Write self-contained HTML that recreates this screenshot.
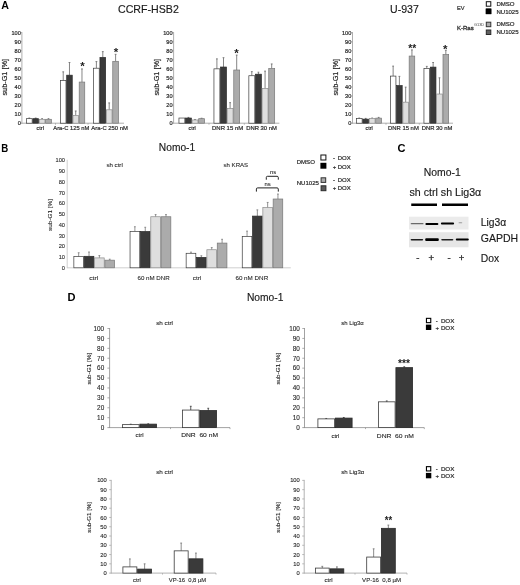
<!DOCTYPE html>
<html><head><meta charset="utf-8"><title>Figure</title>
<style>html,body{margin:0;padding:0;background:#fff}svg{display:block;will-change:transform;filter:blur(0.3px)}</style>
</head><body>
<svg width="520" height="585" viewBox="0 0 520 585" font-family='"Liberation Sans", Arial, sans-serif'>
<rect width="520" height="585" fill="#fff"/>
<text x="1.20" y="8.90" font-size="10.4" text-anchor="start" font-weight="bold" fill="#000" textLength="7.70" lengthAdjust="spacingAndGlyphs" >A</text>
<text x="148.40" y="13.00" font-size="10.6" text-anchor="middle" font-weight="normal" fill="#1a1a1a" stroke="#1a1a1a" stroke-width="0.15" textLength="60.80" lengthAdjust="spacingAndGlyphs" >CCRF-HSB2</text>
<text x="404.40" y="13.00" font-size="10.6" text-anchor="middle" font-weight="normal" fill="#1a1a1a" stroke="#1a1a1a" stroke-width="0.15" textLength="28.80" lengthAdjust="spacingAndGlyphs" >U-937</text>
<line x1="21.9" y1="32.1" x2="21.9" y2="123.60000000000001" stroke="#999" stroke-width="0.8"/>
<line x1="20.7" y1="123.2" x2="124" y2="123.2" stroke="#999" stroke-width="0.8"/>
<line x1="55.5" y1="123.2" x2="55.5" y2="124.7" stroke="#999" stroke-width="0.7"/>
<line x1="88" y1="123.2" x2="88" y2="124.7" stroke="#999" stroke-width="0.7"/>
<text x="20.80" y="125.20" font-size="5.6" text-anchor="end" font-weight="normal" fill="#2a2a2a" stroke="#2a2a2a" stroke-width="0.2" >0</text>
<line x1="20.7" y1="114.14" x2="21.9" y2="114.14" stroke="#999" stroke-width="0.7"/>
<text x="20.80" y="116.14" font-size="5.6" text-anchor="end" font-weight="normal" fill="#2a2a2a" stroke="#2a2a2a" stroke-width="0.2" >10</text>
<line x1="20.7" y1="105.08" x2="21.9" y2="105.08" stroke="#999" stroke-width="0.7"/>
<text x="20.80" y="107.08" font-size="5.6" text-anchor="end" font-weight="normal" fill="#2a2a2a" stroke="#2a2a2a" stroke-width="0.2" >20</text>
<line x1="20.7" y1="96.02" x2="21.9" y2="96.02" stroke="#999" stroke-width="0.7"/>
<text x="20.80" y="98.02" font-size="5.6" text-anchor="end" font-weight="normal" fill="#2a2a2a" stroke="#2a2a2a" stroke-width="0.2" >30</text>
<line x1="20.7" y1="86.96" x2="21.9" y2="86.96" stroke="#999" stroke-width="0.7"/>
<text x="20.80" y="88.96" font-size="5.6" text-anchor="end" font-weight="normal" fill="#2a2a2a" stroke="#2a2a2a" stroke-width="0.2" >40</text>
<line x1="20.7" y1="77.90" x2="21.9" y2="77.90" stroke="#999" stroke-width="0.7"/>
<text x="20.80" y="79.90" font-size="5.6" text-anchor="end" font-weight="normal" fill="#2a2a2a" stroke="#2a2a2a" stroke-width="0.2" >50</text>
<line x1="20.7" y1="68.84" x2="21.9" y2="68.84" stroke="#999" stroke-width="0.7"/>
<text x="20.80" y="70.84" font-size="5.6" text-anchor="end" font-weight="normal" fill="#2a2a2a" stroke="#2a2a2a" stroke-width="0.2" >60</text>
<line x1="20.7" y1="59.78" x2="21.9" y2="59.78" stroke="#999" stroke-width="0.7"/>
<text x="20.80" y="61.78" font-size="5.6" text-anchor="end" font-weight="normal" fill="#2a2a2a" stroke="#2a2a2a" stroke-width="0.2" >70</text>
<line x1="20.7" y1="50.72" x2="21.9" y2="50.72" stroke="#999" stroke-width="0.7"/>
<text x="20.80" y="52.72" font-size="5.6" text-anchor="end" font-weight="normal" fill="#2a2a2a" stroke="#2a2a2a" stroke-width="0.2" >80</text>
<line x1="20.7" y1="41.66" x2="21.9" y2="41.66" stroke="#999" stroke-width="0.7"/>
<text x="20.80" y="43.66" font-size="5.6" text-anchor="end" font-weight="normal" fill="#2a2a2a" stroke="#2a2a2a" stroke-width="0.2" >90</text>
<line x1="20.7" y1="32.60" x2="21.9" y2="32.60" stroke="#999" stroke-width="0.7"/>
<text x="20.80" y="34.60" font-size="5.6" text-anchor="end" font-weight="normal" fill="#2a2a2a" stroke="#2a2a2a" stroke-width="0.2" >100</text>
<text transform="translate(6.9,77.3) rotate(-90)" font-size="7" text-anchor="middle" fill="#2a2a2a" stroke="#2a2a2a" stroke-width="0.2" textLength="36.6" lengthAdjust="spacingAndGlyphs">sub-G1 [%]</text>
<line x1="29.30" y1="118.67" x2="29.30" y2="118.04" stroke="#666" stroke-width="0.8"/>
<line x1="28.40" y1="118.04" x2="30.20" y2="118.04" stroke="#666" stroke-width="0.8"/>
<rect x="26.45" y="118.67" width="5.70" height="4.53" fill="#ffffff" stroke="#3a3a3a" stroke-width="0.7"/>
<line x1="35.70" y1="118.67" x2="35.70" y2="118.04" stroke="#666" stroke-width="0.8"/>
<line x1="34.80" y1="118.04" x2="36.60" y2="118.04" stroke="#666" stroke-width="0.8"/>
<rect x="32.85" y="118.67" width="5.70" height="4.53" fill="#3a3a3a" stroke="#2a2a2a" stroke-width="0.7"/>
<line x1="42.10" y1="119.30" x2="42.10" y2="118.67" stroke="#666" stroke-width="0.8"/>
<line x1="41.20" y1="118.67" x2="43.00" y2="118.67" stroke="#666" stroke-width="0.8"/>
<rect x="39.25" y="119.30" width="5.70" height="3.90" fill="#dedede" stroke="#8a8a8a" stroke-width="0.7"/>
<line x1="48.50" y1="119.30" x2="48.50" y2="118.67" stroke="#666" stroke-width="0.8"/>
<line x1="47.60" y1="118.67" x2="49.40" y2="118.67" stroke="#666" stroke-width="0.8"/>
<rect x="45.65" y="119.30" width="5.70" height="3.90" fill="#ababab" stroke="#777" stroke-width="0.7"/>
<text x="40.20" y="129.70" font-size="5.8" text-anchor="middle" font-weight="normal" fill="#2a2a2a" stroke="#2a2a2a" stroke-width="0.2" textLength="7.40" lengthAdjust="spacingAndGlyphs" xml:space="preserve">ctrl</text>
<line x1="63.23" y1="80.62" x2="63.23" y2="71.83" stroke="#666" stroke-width="0.8"/>
<line x1="62.33" y1="71.83" x2="64.12" y2="71.83" stroke="#666" stroke-width="0.8"/>
<rect x="60.45" y="80.62" width="5.55" height="42.58" fill="#ffffff" stroke="#3a3a3a" stroke-width="0.7"/>
<line x1="69.47" y1="75.18" x2="69.47" y2="62.50" stroke="#666" stroke-width="0.8"/>
<line x1="68.57" y1="62.50" x2="70.38" y2="62.50" stroke="#666" stroke-width="0.8"/>
<rect x="66.70" y="75.18" width="5.55" height="48.02" fill="#3a3a3a" stroke="#2a2a2a" stroke-width="0.7"/>
<line x1="75.72" y1="115.50" x2="75.72" y2="110.97" stroke="#666" stroke-width="0.8"/>
<line x1="74.82" y1="110.97" x2="76.62" y2="110.97" stroke="#666" stroke-width="0.8"/>
<rect x="72.95" y="115.50" width="5.55" height="7.70" fill="#dedede" stroke="#8a8a8a" stroke-width="0.7"/>
<line x1="81.97" y1="82.07" x2="81.97" y2="68.93" stroke="#666" stroke-width="0.8"/>
<line x1="81.07" y1="68.93" x2="82.88" y2="68.93" stroke="#666" stroke-width="0.8"/>
<rect x="79.20" y="82.07" width="5.55" height="41.13" fill="#ababab" stroke="#777" stroke-width="0.7"/>
<text x="71.30" y="129.70" font-size="5.8" text-anchor="middle" font-weight="normal" fill="#2a2a2a" stroke="#2a2a2a" stroke-width="0.2" textLength="36.00" lengthAdjust="spacingAndGlyphs" xml:space="preserve">Ara-C 125 nM</text>
<line x1="96.40" y1="68.21" x2="96.40" y2="61.59" stroke="#666" stroke-width="0.8"/>
<line x1="95.50" y1="61.59" x2="97.30" y2="61.59" stroke="#666" stroke-width="0.8"/>
<rect x="93.55" y="68.21" width="5.70" height="54.99" fill="#ffffff" stroke="#3a3a3a" stroke-width="0.7"/>
<line x1="102.80" y1="57.42" x2="102.80" y2="51.63" stroke="#666" stroke-width="0.8"/>
<line x1="101.90" y1="51.63" x2="103.70" y2="51.63" stroke="#666" stroke-width="0.8"/>
<rect x="99.95" y="57.42" width="5.70" height="65.78" fill="#3a3a3a" stroke="#2a2a2a" stroke-width="0.7"/>
<line x1="109.20" y1="109.79" x2="109.20" y2="102.91" stroke="#666" stroke-width="0.8"/>
<line x1="108.30" y1="102.91" x2="110.10" y2="102.91" stroke="#666" stroke-width="0.8"/>
<rect x="106.35" y="109.79" width="5.70" height="13.41" fill="#dedede" stroke="#8a8a8a" stroke-width="0.7"/>
<line x1="115.60" y1="61.32" x2="115.60" y2="54.34" stroke="#666" stroke-width="0.8"/>
<line x1="114.70" y1="54.34" x2="116.50" y2="54.34" stroke="#666" stroke-width="0.8"/>
<rect x="112.75" y="61.32" width="5.70" height="61.88" fill="#ababab" stroke="#777" stroke-width="0.7"/>
<text x="109.60" y="129.70" font-size="5.8" text-anchor="middle" font-weight="normal" fill="#2a2a2a" stroke="#2a2a2a" stroke-width="0.2" textLength="36.60" lengthAdjust="spacingAndGlyphs" xml:space="preserve">Ara-C 250 nM</text>
<text x="82.40" y="69.93" font-size="11.5" text-anchor="middle" font-weight="bold" fill="#222" >*</text>
<text x="115.90" y="56.33" font-size="11.5" text-anchor="middle" font-weight="bold" fill="#222" >*</text>
<line x1="173.6" y1="32.1" x2="173.6" y2="123.60000000000001" stroke="#999" stroke-width="0.8"/>
<line x1="172.4" y1="123.2" x2="279.4" y2="123.2" stroke="#999" stroke-width="0.8"/>
<line x1="209" y1="123.2" x2="209" y2="124.7" stroke="#999" stroke-width="0.7"/>
<line x1="244.3" y1="123.2" x2="244.3" y2="124.7" stroke="#999" stroke-width="0.7"/>
<text x="172.50" y="125.20" font-size="5.6" text-anchor="end" font-weight="normal" fill="#2a2a2a" stroke="#2a2a2a" stroke-width="0.2" >0</text>
<line x1="172.4" y1="114.14" x2="173.6" y2="114.14" stroke="#999" stroke-width="0.7"/>
<text x="172.50" y="116.14" font-size="5.6" text-anchor="end" font-weight="normal" fill="#2a2a2a" stroke="#2a2a2a" stroke-width="0.2" >10</text>
<line x1="172.4" y1="105.08" x2="173.6" y2="105.08" stroke="#999" stroke-width="0.7"/>
<text x="172.50" y="107.08" font-size="5.6" text-anchor="end" font-weight="normal" fill="#2a2a2a" stroke="#2a2a2a" stroke-width="0.2" >20</text>
<line x1="172.4" y1="96.02" x2="173.6" y2="96.02" stroke="#999" stroke-width="0.7"/>
<text x="172.50" y="98.02" font-size="5.6" text-anchor="end" font-weight="normal" fill="#2a2a2a" stroke="#2a2a2a" stroke-width="0.2" >30</text>
<line x1="172.4" y1="86.96" x2="173.6" y2="86.96" stroke="#999" stroke-width="0.7"/>
<text x="172.50" y="88.96" font-size="5.6" text-anchor="end" font-weight="normal" fill="#2a2a2a" stroke="#2a2a2a" stroke-width="0.2" >40</text>
<line x1="172.4" y1="77.90" x2="173.6" y2="77.90" stroke="#999" stroke-width="0.7"/>
<text x="172.50" y="79.90" font-size="5.6" text-anchor="end" font-weight="normal" fill="#2a2a2a" stroke="#2a2a2a" stroke-width="0.2" >50</text>
<line x1="172.4" y1="68.84" x2="173.6" y2="68.84" stroke="#999" stroke-width="0.7"/>
<text x="172.50" y="70.84" font-size="5.6" text-anchor="end" font-weight="normal" fill="#2a2a2a" stroke="#2a2a2a" stroke-width="0.2" >60</text>
<line x1="172.4" y1="59.78" x2="173.6" y2="59.78" stroke="#999" stroke-width="0.7"/>
<text x="172.50" y="61.78" font-size="5.6" text-anchor="end" font-weight="normal" fill="#2a2a2a" stroke="#2a2a2a" stroke-width="0.2" >70</text>
<line x1="172.4" y1="50.72" x2="173.6" y2="50.72" stroke="#999" stroke-width="0.7"/>
<text x="172.50" y="52.72" font-size="5.6" text-anchor="end" font-weight="normal" fill="#2a2a2a" stroke="#2a2a2a" stroke-width="0.2" >80</text>
<line x1="172.4" y1="41.66" x2="173.6" y2="41.66" stroke="#999" stroke-width="0.7"/>
<text x="172.50" y="43.66" font-size="5.6" text-anchor="end" font-weight="normal" fill="#2a2a2a" stroke="#2a2a2a" stroke-width="0.2" >90</text>
<line x1="172.4" y1="32.60" x2="173.6" y2="32.60" stroke="#999" stroke-width="0.7"/>
<text x="172.50" y="34.60" font-size="5.6" text-anchor="end" font-weight="normal" fill="#2a2a2a" stroke="#2a2a2a" stroke-width="0.2" >100</text>
<text transform="translate(158.5,77.3) rotate(-90)" font-size="7" text-anchor="middle" fill="#2a2a2a" stroke="#2a2a2a" stroke-width="0.2" textLength="36.6" lengthAdjust="spacingAndGlyphs">sub-G1 [%]</text>
<rect x="178.95" y="118.04" width="5.87" height="5.16" fill="#ffffff" stroke="#3a3a3a" stroke-width="0.7"/>
<line x1="188.45" y1="118.04" x2="188.45" y2="117.40" stroke="#666" stroke-width="0.8"/>
<line x1="187.55" y1="117.40" x2="189.35" y2="117.40" stroke="#666" stroke-width="0.8"/>
<rect x="185.52" y="118.04" width="5.87" height="5.16" fill="#3a3a3a" stroke="#2a2a2a" stroke-width="0.7"/>
<line x1="195.03" y1="119.94" x2="195.03" y2="119.49" stroke="#666" stroke-width="0.8"/>
<line x1="194.12" y1="119.49" x2="195.93" y2="119.49" stroke="#666" stroke-width="0.8"/>
<rect x="192.09" y="119.94" width="5.87" height="3.26" fill="#dedede" stroke="#8a8a8a" stroke-width="0.7"/>
<line x1="201.59" y1="118.67" x2="201.59" y2="118.22" stroke="#666" stroke-width="0.8"/>
<line x1="200.69" y1="118.22" x2="202.50" y2="118.22" stroke="#666" stroke-width="0.8"/>
<rect x="198.66" y="118.67" width="5.87" height="4.53" fill="#ababab" stroke="#777" stroke-width="0.7"/>
<text x="192.20" y="129.70" font-size="5.8" text-anchor="middle" font-weight="normal" fill="#2a2a2a" stroke="#2a2a2a" stroke-width="0.2" textLength="7.30" lengthAdjust="spacingAndGlyphs" xml:space="preserve">ctrl</text>
<line x1="216.90" y1="68.84" x2="216.90" y2="58.87" stroke="#666" stroke-width="0.8"/>
<line x1="216.00" y1="58.87" x2="217.80" y2="58.87" stroke="#666" stroke-width="0.8"/>
<rect x="213.95" y="68.84" width="5.90" height="54.36" fill="#ffffff" stroke="#3a3a3a" stroke-width="0.7"/>
<line x1="223.50" y1="67.03" x2="223.50" y2="57.70" stroke="#666" stroke-width="0.8"/>
<line x1="222.60" y1="57.70" x2="224.40" y2="57.70" stroke="#666" stroke-width="0.8"/>
<rect x="220.55" y="67.03" width="5.90" height="56.17" fill="#3a3a3a" stroke="#2a2a2a" stroke-width="0.7"/>
<line x1="230.10" y1="108.52" x2="230.10" y2="102.63" stroke="#666" stroke-width="0.8"/>
<line x1="229.20" y1="102.63" x2="231.00" y2="102.63" stroke="#666" stroke-width="0.8"/>
<rect x="227.15" y="108.52" width="5.90" height="14.68" fill="#dedede" stroke="#8a8a8a" stroke-width="0.7"/>
<line x1="236.70" y1="70.02" x2="236.70" y2="55.07" stroke="#666" stroke-width="0.8"/>
<line x1="235.80" y1="55.07" x2="237.60" y2="55.07" stroke="#666" stroke-width="0.8"/>
<rect x="233.75" y="70.02" width="5.90" height="53.18" fill="#ababab" stroke="#777" stroke-width="0.7"/>
<text x="227.60" y="129.70" font-size="5.8" text-anchor="middle" font-weight="normal" fill="#2a2a2a" stroke="#2a2a2a" stroke-width="0.2" textLength="31.10" lengthAdjust="spacingAndGlyphs" xml:space="preserve">DNR 15 nM</text>
<line x1="251.81" y1="75.73" x2="251.81" y2="71.65" stroke="#666" stroke-width="0.8"/>
<line x1="250.91" y1="71.65" x2="252.72" y2="71.65" stroke="#666" stroke-width="0.8"/>
<rect x="248.85" y="75.73" width="5.93" height="47.47" fill="#ffffff" stroke="#3a3a3a" stroke-width="0.7"/>
<line x1="258.44" y1="74.19" x2="258.44" y2="72.19" stroke="#666" stroke-width="0.8"/>
<line x1="257.55" y1="72.19" x2="259.34" y2="72.19" stroke="#666" stroke-width="0.8"/>
<rect x="255.48" y="74.19" width="5.93" height="49.01" fill="#3a3a3a" stroke="#2a2a2a" stroke-width="0.7"/>
<line x1="265.07" y1="88.50" x2="265.07" y2="71.11" stroke="#666" stroke-width="0.8"/>
<line x1="264.18" y1="71.11" x2="265.97" y2="71.11" stroke="#666" stroke-width="0.8"/>
<rect x="262.11" y="88.50" width="5.93" height="34.70" fill="#dedede" stroke="#8a8a8a" stroke-width="0.7"/>
<line x1="271.70" y1="68.48" x2="271.70" y2="63.95" stroke="#666" stroke-width="0.8"/>
<line x1="270.81" y1="63.95" x2="272.60" y2="63.95" stroke="#666" stroke-width="0.8"/>
<rect x="268.74" y="68.48" width="5.93" height="54.72" fill="#ababab" stroke="#777" stroke-width="0.7"/>
<text x="261.60" y="129.70" font-size="5.8" text-anchor="middle" font-weight="normal" fill="#2a2a2a" stroke="#2a2a2a" stroke-width="0.2" textLength="30.60" lengthAdjust="spacingAndGlyphs" xml:space="preserve">DNR 30 nM</text>
<text x="236.40" y="56.83" font-size="11.5" text-anchor="middle" font-weight="bold" fill="#222" >*</text>
<line x1="352.5" y1="32.1" x2="352.5" y2="123.60000000000001" stroke="#999" stroke-width="0.8"/>
<line x1="351.3" y1="123.2" x2="453" y2="123.2" stroke="#999" stroke-width="0.8"/>
<line x1="386" y1="123.2" x2="386" y2="124.7" stroke="#999" stroke-width="0.7"/>
<line x1="419.3" y1="123.2" x2="419.3" y2="124.7" stroke="#999" stroke-width="0.7"/>
<text x="351.30" y="125.20" font-size="5.6" text-anchor="end" font-weight="normal" fill="#2a2a2a" stroke="#2a2a2a" stroke-width="0.2" >0</text>
<line x1="351.3" y1="114.14" x2="352.5" y2="114.14" stroke="#999" stroke-width="0.7"/>
<text x="351.30" y="116.14" font-size="5.6" text-anchor="end" font-weight="normal" fill="#2a2a2a" stroke="#2a2a2a" stroke-width="0.2" >10</text>
<line x1="351.3" y1="105.08" x2="352.5" y2="105.08" stroke="#999" stroke-width="0.7"/>
<text x="351.30" y="107.08" font-size="5.6" text-anchor="end" font-weight="normal" fill="#2a2a2a" stroke="#2a2a2a" stroke-width="0.2" >20</text>
<line x1="351.3" y1="96.02" x2="352.5" y2="96.02" stroke="#999" stroke-width="0.7"/>
<text x="351.30" y="98.02" font-size="5.6" text-anchor="end" font-weight="normal" fill="#2a2a2a" stroke="#2a2a2a" stroke-width="0.2" >30</text>
<line x1="351.3" y1="86.96" x2="352.5" y2="86.96" stroke="#999" stroke-width="0.7"/>
<text x="351.30" y="88.96" font-size="5.6" text-anchor="end" font-weight="normal" fill="#2a2a2a" stroke="#2a2a2a" stroke-width="0.2" >40</text>
<line x1="351.3" y1="77.90" x2="352.5" y2="77.90" stroke="#999" stroke-width="0.7"/>
<text x="351.30" y="79.90" font-size="5.6" text-anchor="end" font-weight="normal" fill="#2a2a2a" stroke="#2a2a2a" stroke-width="0.2" >50</text>
<line x1="351.3" y1="68.84" x2="352.5" y2="68.84" stroke="#999" stroke-width="0.7"/>
<text x="351.30" y="70.84" font-size="5.6" text-anchor="end" font-weight="normal" fill="#2a2a2a" stroke="#2a2a2a" stroke-width="0.2" >60</text>
<line x1="351.3" y1="59.78" x2="352.5" y2="59.78" stroke="#999" stroke-width="0.7"/>
<text x="351.30" y="61.78" font-size="5.6" text-anchor="end" font-weight="normal" fill="#2a2a2a" stroke="#2a2a2a" stroke-width="0.2" >70</text>
<line x1="351.3" y1="50.72" x2="352.5" y2="50.72" stroke="#999" stroke-width="0.7"/>
<text x="351.30" y="52.72" font-size="5.6" text-anchor="end" font-weight="normal" fill="#2a2a2a" stroke="#2a2a2a" stroke-width="0.2" >80</text>
<line x1="351.3" y1="41.66" x2="352.5" y2="41.66" stroke="#999" stroke-width="0.7"/>
<text x="351.30" y="43.66" font-size="5.6" text-anchor="end" font-weight="normal" fill="#2a2a2a" stroke="#2a2a2a" stroke-width="0.2" >90</text>
<line x1="351.3" y1="32.60" x2="352.5" y2="32.60" stroke="#999" stroke-width="0.7"/>
<text x="351.30" y="34.60" font-size="5.6" text-anchor="end" font-weight="normal" fill="#2a2a2a" stroke="#2a2a2a" stroke-width="0.2" >100</text>
<text transform="translate(337.5,77.3) rotate(-90)" font-size="7" text-anchor="middle" fill="#2a2a2a" stroke="#2a2a2a" stroke-width="0.2" textLength="36.6" lengthAdjust="spacingAndGlyphs">sub-G1 [%]</text>
<line x1="359.24" y1="118.49" x2="359.24" y2="118.04" stroke="#666" stroke-width="0.8"/>
<line x1="358.34" y1="118.04" x2="360.13" y2="118.04" stroke="#666" stroke-width="0.8"/>
<rect x="356.35" y="118.49" width="5.77" height="4.71" fill="#ffffff" stroke="#3a3a3a" stroke-width="0.7"/>
<line x1="365.71" y1="119.12" x2="365.71" y2="118.40" stroke="#666" stroke-width="0.8"/>
<line x1="364.81" y1="118.40" x2="366.61" y2="118.40" stroke="#666" stroke-width="0.8"/>
<rect x="362.82" y="119.12" width="5.77" height="4.08" fill="#3a3a3a" stroke="#2a2a2a" stroke-width="0.7"/>
<line x1="372.18" y1="118.49" x2="372.18" y2="118.04" stroke="#666" stroke-width="0.8"/>
<line x1="371.28" y1="118.04" x2="373.07" y2="118.04" stroke="#666" stroke-width="0.8"/>
<rect x="369.29" y="118.49" width="5.77" height="4.71" fill="#dedede" stroke="#8a8a8a" stroke-width="0.7"/>
<line x1="378.65" y1="118.13" x2="378.65" y2="117.40" stroke="#666" stroke-width="0.8"/>
<line x1="377.75" y1="117.40" x2="379.55" y2="117.40" stroke="#666" stroke-width="0.8"/>
<rect x="375.76" y="118.13" width="5.77" height="5.07" fill="#ababab" stroke="#777" stroke-width="0.7"/>
<text x="369.20" y="129.70" font-size="5.8" text-anchor="middle" font-weight="normal" fill="#2a2a2a" stroke="#2a2a2a" stroke-width="0.2" textLength="7.30" lengthAdjust="spacingAndGlyphs" xml:space="preserve">ctrl</text>
<line x1="393.13" y1="76.09" x2="393.13" y2="66.12" stroke="#666" stroke-width="0.8"/>
<line x1="392.24" y1="66.12" x2="394.03" y2="66.12" stroke="#666" stroke-width="0.8"/>
<rect x="390.35" y="76.09" width="5.57" height="47.11" fill="#ffffff" stroke="#3a3a3a" stroke-width="0.7"/>
<line x1="399.40" y1="85.60" x2="399.40" y2="76.36" stroke="#666" stroke-width="0.8"/>
<line x1="398.50" y1="76.36" x2="400.30" y2="76.36" stroke="#666" stroke-width="0.8"/>
<rect x="396.62" y="85.60" width="5.57" height="37.60" fill="#3a3a3a" stroke="#2a2a2a" stroke-width="0.7"/>
<line x1="405.68" y1="102.18" x2="405.68" y2="87.14" stroke="#666" stroke-width="0.8"/>
<line x1="404.78" y1="87.14" x2="406.57" y2="87.14" stroke="#666" stroke-width="0.8"/>
<rect x="402.89" y="102.18" width="5.57" height="21.02" fill="#dedede" stroke="#8a8a8a" stroke-width="0.7"/>
<line x1="411.94" y1="56.07" x2="411.94" y2="49.90" stroke="#666" stroke-width="0.8"/>
<line x1="411.05" y1="49.90" x2="412.84" y2="49.90" stroke="#666" stroke-width="0.8"/>
<rect x="409.16" y="56.07" width="5.57" height="67.13" fill="#ababab" stroke="#777" stroke-width="0.7"/>
<text x="403.40" y="129.70" font-size="5.8" text-anchor="middle" font-weight="normal" fill="#2a2a2a" stroke="#2a2a2a" stroke-width="0.2" textLength="30.80" lengthAdjust="spacingAndGlyphs" xml:space="preserve">DNR 15 nM</text>
<line x1="426.78" y1="68.39" x2="426.78" y2="66.39" stroke="#666" stroke-width="0.8"/>
<line x1="425.88" y1="66.39" x2="427.68" y2="66.39" stroke="#666" stroke-width="0.8"/>
<rect x="423.95" y="68.39" width="5.65" height="54.81" fill="#ffffff" stroke="#3a3a3a" stroke-width="0.7"/>
<line x1="433.13" y1="67.12" x2="433.13" y2="62.50" stroke="#666" stroke-width="0.8"/>
<line x1="432.23" y1="62.50" x2="434.03" y2="62.50" stroke="#666" stroke-width="0.8"/>
<rect x="430.30" y="67.12" width="5.65" height="56.08" fill="#3a3a3a" stroke="#2a2a2a" stroke-width="0.7"/>
<line x1="439.48" y1="94.03" x2="439.48" y2="77.81" stroke="#666" stroke-width="0.8"/>
<line x1="438.58" y1="77.81" x2="440.38" y2="77.81" stroke="#666" stroke-width="0.8"/>
<rect x="436.65" y="94.03" width="5.65" height="29.17" fill="#dedede" stroke="#8a8a8a" stroke-width="0.7"/>
<line x1="445.83" y1="54.53" x2="445.83" y2="50.27" stroke="#666" stroke-width="0.8"/>
<line x1="444.93" y1="50.27" x2="446.73" y2="50.27" stroke="#666" stroke-width="0.8"/>
<rect x="443.00" y="54.53" width="5.65" height="68.67" fill="#ababab" stroke="#777" stroke-width="0.7"/>
<text x="437.00" y="129.70" font-size="5.8" text-anchor="middle" font-weight="normal" fill="#2a2a2a" stroke="#2a2a2a" stroke-width="0.2" textLength="30.70" lengthAdjust="spacingAndGlyphs" xml:space="preserve">DNR 30 nM</text>
<text x="412.20" y="51.53" font-size="11.5" text-anchor="middle" font-weight="bold" fill="#222" textLength="8.00" lengthAdjust="spacingAndGlyphs" >**</text>
<text x="445.20" y="53.03" font-size="11.5" text-anchor="middle" font-weight="bold" fill="#222" >*</text>
<text x="457.00" y="10.10" font-size="6.1" text-anchor="start" font-weight="normal" fill="#2a2a2a" stroke="#2a2a2a" stroke-width="0.2" textLength="7.60" lengthAdjust="spacingAndGlyphs" >EV</text>
<rect x="486.30" y="1.70" width="4.50" height="4.50" fill="#ffffff" stroke="#111" stroke-width="1.0"/>
<text x="496.40" y="5.80" font-size="6.1" text-anchor="start" font-weight="normal" fill="#2a2a2a" stroke="#2a2a2a" stroke-width="0.2" textLength="18.20" lengthAdjust="spacingAndGlyphs" >DMSO</text>
<rect x="486.30" y="9.10" width="4.50" height="4.50" fill="#3a3a3a" stroke="#000" stroke-width="1.0"/>
<rect x="485.8" y="8.6" width="5.5" height="5.5" fill="#000"/>
<text x="496.40" y="13.70" font-size="6.1" text-anchor="start" font-weight="normal" fill="#2a2a2a" stroke="#2a2a2a" stroke-width="0.2" textLength="22.20" lengthAdjust="spacingAndGlyphs" >NU1025</text>
<text x="457" y="29.9" font-size="6" fill="#2a2a2a" stroke="#2a2a2a" stroke-width="0.28">K-Ras<tspan font-size="3.9" dy="-4.1" dx="0.3" stroke="none" fill="#444">G13D</tspan></text>
<rect x="486.30" y="22.20" width="4.50" height="4.50" fill="#ababab" stroke="#333" stroke-width="1.0"/>
<text x="496.40" y="26.30" font-size="6.1" text-anchor="start" font-weight="normal" fill="#2a2a2a" stroke="#2a2a2a" stroke-width="0.2" textLength="18.20" lengthAdjust="spacingAndGlyphs" >DMSO</text>
<rect x="486.3" y="30.0" width="4.5" height="4.5" fill="#606060" stroke="#2a2a2a" stroke-width="1" />
<text x="496.40" y="34.30" font-size="6.1" text-anchor="start" font-weight="normal" fill="#2a2a2a" stroke="#2a2a2a" stroke-width="0.2" textLength="22.20" lengthAdjust="spacingAndGlyphs" >NU1025</text>
<text x="1.20" y="151.50" font-size="10.4" text-anchor="start" font-weight="bold" fill="#000" textLength="7.00" lengthAdjust="spacingAndGlyphs" >B</text>
<text x="177.00" y="151.10" font-size="10.2" text-anchor="middle" font-weight="normal" fill="#1a1a1a" stroke="#1a1a1a" stroke-width="0.15" textLength="36.30" lengthAdjust="spacingAndGlyphs" >Nomo-1</text>
<line x1="67.2" y1="159.8" x2="67.2" y2="268.2" stroke="#c4c4c4" stroke-width="0.8"/>
<line x1="67.2" y1="267.8" x2="290.8" y2="267.8" stroke="#c4c4c4" stroke-width="0.8"/>
<text x="65.00" y="269.84" font-size="5.7" text-anchor="end" font-weight="normal" fill="#2a2a2a" stroke="#2a2a2a" stroke-width="0.1" >0</text>
<text x="65.00" y="259.09" font-size="5.7" text-anchor="end" font-weight="normal" fill="#2a2a2a" stroke="#2a2a2a" stroke-width="0.1" >10</text>
<text x="65.00" y="248.34" font-size="5.7" text-anchor="end" font-weight="normal" fill="#2a2a2a" stroke="#2a2a2a" stroke-width="0.1" >20</text>
<text x="65.00" y="237.59" font-size="5.7" text-anchor="end" font-weight="normal" fill="#2a2a2a" stroke="#2a2a2a" stroke-width="0.1" >30</text>
<text x="65.00" y="226.84" font-size="5.7" text-anchor="end" font-weight="normal" fill="#2a2a2a" stroke="#2a2a2a" stroke-width="0.1" >40</text>
<text x="65.00" y="216.09" font-size="5.7" text-anchor="end" font-weight="normal" fill="#2a2a2a" stroke="#2a2a2a" stroke-width="0.1" >50</text>
<text x="65.00" y="205.34" font-size="5.7" text-anchor="end" font-weight="normal" fill="#2a2a2a" stroke="#2a2a2a" stroke-width="0.1" >60</text>
<text x="65.00" y="194.59" font-size="5.7" text-anchor="end" font-weight="normal" fill="#2a2a2a" stroke="#2a2a2a" stroke-width="0.1" >70</text>
<text x="65.00" y="183.84" font-size="5.7" text-anchor="end" font-weight="normal" fill="#2a2a2a" stroke="#2a2a2a" stroke-width="0.1" >80</text>
<text x="65.00" y="173.09" font-size="5.7" text-anchor="end" font-weight="normal" fill="#2a2a2a" stroke="#2a2a2a" stroke-width="0.1" >90</text>
<text x="65.00" y="162.34" font-size="5.7" text-anchor="end" font-weight="normal" fill="#2a2a2a" stroke="#2a2a2a" stroke-width="0.1" >100</text>
<text transform="translate(51.8,215) rotate(-90)" font-size="5.6" text-anchor="middle" fill="#2a2a2a" stroke="#2a2a2a" stroke-width="0.1" textLength="32" lengthAdjust="spacingAndGlyphs">sub-G1 [%]</text>
<line x1="78.67" y1="256.62" x2="78.67" y2="252.75" stroke="#777" stroke-width="0.8"/>
<line x1="77.77" y1="252.75" x2="79.58" y2="252.75" stroke="#777" stroke-width="0.8"/>
<rect x="73.85" y="256.62" width="9.65" height="11.18" fill="#ffffff" stroke="#3a3a3a" stroke-width="0.7"/>
<line x1="89.02" y1="256.30" x2="89.02" y2="252.00" stroke="#777" stroke-width="0.8"/>
<line x1="88.12" y1="252.00" x2="89.92" y2="252.00" stroke="#777" stroke-width="0.8"/>
<rect x="84.20" y="256.30" width="9.65" height="11.50" fill="#3a3a3a" stroke="#2a2a2a" stroke-width="0.7"/>
<line x1="99.38" y1="257.91" x2="99.38" y2="255.55" stroke="#777" stroke-width="0.8"/>
<line x1="98.47" y1="255.55" x2="100.28" y2="255.55" stroke="#777" stroke-width="0.8"/>
<rect x="94.55" y="257.91" width="9.65" height="9.89" fill="#dedede" stroke="#8a8a8a" stroke-width="0.7"/>
<line x1="109.72" y1="260.17" x2="109.72" y2="259.20" stroke="#777" stroke-width="0.8"/>
<line x1="108.82" y1="259.20" x2="110.62" y2="259.20" stroke="#777" stroke-width="0.8"/>
<rect x="104.90" y="260.17" width="9.65" height="7.63" fill="#ababab" stroke="#777" stroke-width="0.7"/>
<text x="93.70" y="280.20" font-size="6.2" text-anchor="middle" font-weight="normal" fill="#2a2a2a" stroke="#2a2a2a" stroke-width="0.1" textLength="8.90" lengthAdjust="spacingAndGlyphs" xml:space="preserve">ctrl</text>
<line x1="134.88" y1="231.47" x2="134.88" y2="226.74" stroke="#777" stroke-width="0.8"/>
<line x1="133.98" y1="226.74" x2="135.78" y2="226.74" stroke="#777" stroke-width="0.8"/>
<rect x="130.05" y="231.47" width="9.67" height="36.33" fill="#ffffff" stroke="#3a3a3a" stroke-width="0.7"/>
<line x1="145.25" y1="231.47" x2="145.25" y2="227.27" stroke="#777" stroke-width="0.8"/>
<line x1="144.35" y1="227.27" x2="146.16" y2="227.27" stroke="#777" stroke-width="0.8"/>
<rect x="140.42" y="231.47" width="9.67" height="36.33" fill="#3a3a3a" stroke="#2a2a2a" stroke-width="0.7"/>
<line x1="155.62" y1="216.74" x2="155.62" y2="214.59" stroke="#777" stroke-width="0.8"/>
<line x1="154.72" y1="214.59" x2="156.53" y2="214.59" stroke="#777" stroke-width="0.8"/>
<rect x="150.79" y="216.74" width="9.67" height="51.06" fill="#dedede" stroke="#8a8a8a" stroke-width="0.7"/>
<line x1="166.00" y1="216.74" x2="166.00" y2="214.59" stroke="#777" stroke-width="0.8"/>
<line x1="165.09" y1="214.59" x2="166.90" y2="214.59" stroke="#777" stroke-width="0.8"/>
<rect x="161.16" y="216.74" width="9.67" height="51.06" fill="#ababab" stroke="#777" stroke-width="0.7"/>
<text x="153.60" y="280.20" font-size="6.2" text-anchor="middle" font-weight="normal" fill="#2a2a2a" stroke="#2a2a2a" stroke-width="0.1" textLength="32.30" lengthAdjust="spacingAndGlyphs" xml:space="preserve">60 nM DNR</text>
<line x1="190.99" y1="253.29" x2="190.99" y2="252.11" stroke="#777" stroke-width="0.8"/>
<line x1="190.09" y1="252.11" x2="191.89" y2="252.11" stroke="#777" stroke-width="0.8"/>
<rect x="186.15" y="253.29" width="9.67" height="14.51" fill="#ffffff" stroke="#3a3a3a" stroke-width="0.7"/>
<line x1="201.36" y1="257.37" x2="201.36" y2="255.76" stroke="#777" stroke-width="0.8"/>
<line x1="200.46" y1="255.76" x2="202.26" y2="255.76" stroke="#777" stroke-width="0.8"/>
<rect x="196.52" y="257.37" width="9.67" height="10.43" fill="#3a3a3a" stroke="#2a2a2a" stroke-width="0.7"/>
<line x1="211.73" y1="249.74" x2="211.73" y2="247.59" stroke="#777" stroke-width="0.8"/>
<line x1="210.83" y1="247.59" x2="212.63" y2="247.59" stroke="#777" stroke-width="0.8"/>
<rect x="206.89" y="249.74" width="9.67" height="18.06" fill="#dedede" stroke="#8a8a8a" stroke-width="0.7"/>
<line x1="222.10" y1="243.08" x2="222.10" y2="239.31" stroke="#777" stroke-width="0.8"/>
<line x1="221.20" y1="239.31" x2="223.00" y2="239.31" stroke="#777" stroke-width="0.8"/>
<rect x="217.26" y="243.08" width="9.67" height="24.72" fill="#ababab" stroke="#777" stroke-width="0.7"/>
<text x="197.00" y="280.20" font-size="6.2" text-anchor="middle" font-weight="normal" fill="#2a2a2a" stroke="#2a2a2a" stroke-width="0.1" textLength="8.30" lengthAdjust="spacingAndGlyphs" xml:space="preserve">ctrl</text>
<line x1="247.05" y1="236.52" x2="247.05" y2="231.14" stroke="#777" stroke-width="0.8"/>
<line x1="246.15" y1="231.14" x2="247.95" y2="231.14" stroke="#777" stroke-width="0.8"/>
<rect x="242.25" y="236.52" width="9.60" height="31.28" fill="#ffffff" stroke="#3a3a3a" stroke-width="0.7"/>
<line x1="257.35" y1="216.09" x2="257.35" y2="209.86" stroke="#777" stroke-width="0.8"/>
<line x1="256.45" y1="209.86" x2="258.25" y2="209.86" stroke="#777" stroke-width="0.8"/>
<rect x="252.55" y="216.09" width="9.60" height="51.71" fill="#3a3a3a" stroke="#2a2a2a" stroke-width="0.7"/>
<line x1="267.65" y1="207.60" x2="267.65" y2="202.44" stroke="#777" stroke-width="0.8"/>
<line x1="266.75" y1="202.44" x2="268.55" y2="202.44" stroke="#777" stroke-width="0.8"/>
<rect x="262.85" y="207.60" width="9.60" height="60.20" fill="#dedede" stroke="#8a8a8a" stroke-width="0.7"/>
<line x1="277.95" y1="199.00" x2="277.95" y2="194.06" stroke="#777" stroke-width="0.8"/>
<line x1="277.05" y1="194.06" x2="278.85" y2="194.06" stroke="#777" stroke-width="0.8"/>
<rect x="273.15" y="199.00" width="9.60" height="68.80" fill="#ababab" stroke="#777" stroke-width="0.7"/>
<text x="251.80" y="280.20" font-size="6.2" text-anchor="middle" font-weight="normal" fill="#2a2a2a" stroke="#2a2a2a" stroke-width="0.1" textLength="32.80" lengthAdjust="spacingAndGlyphs" xml:space="preserve">60 nM DNR</text>
<text x="114.60" y="167.00" font-size="6.1" text-anchor="middle" font-weight="normal" fill="#2a2a2a" stroke="#2a2a2a" stroke-width="0.1" textLength="16.40" lengthAdjust="spacingAndGlyphs" >sh ctrl</text>
<text x="235.80" y="166.90" font-size="6.1" text-anchor="middle" font-weight="normal" fill="#2a2a2a" stroke="#2a2a2a" stroke-width="0.1" textLength="24.60" lengthAdjust="spacingAndGlyphs" >sh KRAS</text>
<text x="273.00" y="174.30" font-size="5.9" text-anchor="middle" font-weight="normal" fill="#2a2a2a" stroke="#2a2a2a" stroke-width="0.1" textLength="6.20" lengthAdjust="spacingAndGlyphs" >ns</text>
<path d="M266.3,179.70000000000002 L266.3,177.5 Q266.3,176.3 267.5,176.3 L277.1,176.3 Q278.3,176.3 278.3,177.5 L278.3,179.70000000000002" fill="none" stroke="#222" stroke-width="1"/>
<text x="267.60" y="186.20" font-size="5.9" text-anchor="middle" font-weight="normal" fill="#2a2a2a" stroke="#2a2a2a" stroke-width="0.1" textLength="6.20" lengthAdjust="spacingAndGlyphs" >ns</text>
<path d="M256.4,191.6 L256.4,189.1 Q256.4,187.9 257.59999999999997,187.9 L277.1,187.9 Q278.3,187.9 278.3,189.1 L278.3,191.6" fill="none" stroke="#222" stroke-width="1"/>
<text x="296.70" y="163.50" font-size="6.1" text-anchor="start" font-weight="normal" fill="#2a2a2a" stroke="#2a2a2a" stroke-width="0.2" textLength="18.20" lengthAdjust="spacingAndGlyphs" >DMSO</text>
<rect x="320.90" y="155.00" width="5.00" height="5.00" fill="#ffffff" stroke="#111" stroke-width="1.0"/>
<text x="333.00" y="160.10" font-size="6" text-anchor="start" font-weight="normal" fill="#2a2a2a" stroke="#2a2a2a" stroke-width="0.2" >-</text>
<text x="337.80" y="160.10" font-size="6" text-anchor="start" font-weight="normal" fill="#2a2a2a" stroke="#2a2a2a" stroke-width="0.2" textLength="13.00" lengthAdjust="spacingAndGlyphs" >DOX</text>
<rect x="320.4" y="162.8" width="6" height="5.9" fill="#000"/>
<text x="332.80" y="168.60" font-size="6" text-anchor="start" font-weight="normal" fill="#2a2a2a" stroke="#2a2a2a" stroke-width="0.2" >+</text>
<text x="337.80" y="168.60" font-size="6" text-anchor="start" font-weight="normal" fill="#2a2a2a" stroke="#2a2a2a" stroke-width="0.2" textLength="13.00" lengthAdjust="spacingAndGlyphs" >DOX</text>
<text x="296.70" y="185.30" font-size="6.1" text-anchor="start" font-weight="normal" fill="#2a2a2a" stroke="#2a2a2a" stroke-width="0.2" textLength="22.20" lengthAdjust="spacingAndGlyphs" >NU1025</text>
<rect x="321.10" y="177.80" width="4.60" height="4.60" fill="#ababab" stroke="#333" stroke-width="1.0"/>
<text x="333.00" y="181.60" font-size="6" text-anchor="start" font-weight="normal" fill="#2a2a2a" stroke="#2a2a2a" stroke-width="0.2" >-</text>
<text x="337.80" y="181.60" font-size="6" text-anchor="start" font-weight="normal" fill="#2a2a2a" stroke="#2a2a2a" stroke-width="0.2" textLength="13.00" lengthAdjust="spacingAndGlyphs" >DOX</text>
<rect x="321.1" y="185.8" width="4.8" height="4.9" fill="#5a5a5a" stroke="#2a2a2a" stroke-width="1"/>
<text x="332.80" y="190.10" font-size="6" text-anchor="start" font-weight="normal" fill="#2a2a2a" stroke="#2a2a2a" stroke-width="0.2" >+</text>
<text x="337.80" y="190.10" font-size="6" text-anchor="start" font-weight="normal" fill="#2a2a2a" stroke="#2a2a2a" stroke-width="0.2" textLength="13.00" lengthAdjust="spacingAndGlyphs" >DOX</text>
<text x="397.50" y="152.30" font-size="10.6" text-anchor="start" font-weight="bold" fill="#000" textLength="8.00" lengthAdjust="spacingAndGlyphs" >C</text>
<text x="442.25" y="175.50" font-size="10.4" text-anchor="middle" font-weight="normal" fill="#1a1a1a" stroke="#1a1a1a" stroke-width="0.15" textLength="37.00" lengthAdjust="spacingAndGlyphs" >Nomo-1</text>
<text x="409.50" y="196.00" font-size="10.5" text-anchor="start" font-weight="normal" fill="#1a1a1a" stroke="#1a1a1a" stroke-width="0.15" textLength="71.75" lengthAdjust="spacingAndGlyphs" >sh ctrl sh Lig3α</text>
<rect x="411.25" y="203.5" width="25.75" height="2.5" fill="#000"/>
<rect x="442" y="203.5" width="26" height="2.5" fill="#000"/>
<defs><filter id="bl" x="-20%" y="-150%" width="140%" height="400%"><feGaussianBlur stdDeviation="0.7 0.4"/></filter></defs>
<rect x="409" y="216.7" width="59.5" height="12.8" fill="#ebebeb"/>
<rect x="409" y="232.2" width="59.5" height="15.1" fill="#e6e6e6"/>
<rect x="410.6" y="223.1" width="13" height="1.2" rx="1" fill="#6a6a6a" filter="url(#bl)"/>
<rect x="425.4" y="223.1" width="13" height="2.0" rx="1" fill="#000" filter="url(#bl)"/>
<rect x="440.9" y="222.4" width="13.2" height="2.0" rx="1" fill="#000" filter="url(#bl)"/>
<rect x="458.5" y="222.25" width="3.8" height="1.1" rx="1" fill="#999" filter="url(#bl)"/>
<rect x="410.6" y="238.89999999999998" width="12.6" height="1.6" rx="1" fill="#1a1a1a" filter="url(#bl)"/>
<rect x="425.2" y="238.29999999999998" width="13.6" height="2.6" rx="1" fill="#000" filter="url(#bl)"/>
<rect x="441.2" y="238.89999999999998" width="12.2" height="1.6" rx="1" fill="#222" filter="url(#bl)"/>
<rect x="455.8" y="238.4" width="13" height="2.2" rx="1" fill="#000" filter="url(#bl)"/>
<text x="480.80" y="226.00" font-size="10.4" text-anchor="start" font-weight="normal" fill="#1a1a1a" stroke="#1a1a1a" stroke-width="0.15" textLength="25.40" lengthAdjust="spacingAndGlyphs" >Lig3α</text>
<text x="480.80" y="241.50" font-size="10.4" text-anchor="start" font-weight="normal" fill="#1a1a1a" stroke="#1a1a1a" stroke-width="0.15" textLength="37.40" lengthAdjust="spacingAndGlyphs" >GAPDH</text>
<text x="480.80" y="261.50" font-size="10.4" text-anchor="start" font-weight="normal" fill="#1a1a1a" stroke="#1a1a1a" stroke-width="0.15" textLength="18.40" lengthAdjust="spacingAndGlyphs" >Dox</text>
<text x="417.80" y="261.30" font-size="9.5" text-anchor="middle" font-weight="normal" fill="#2a2a2a" stroke="#2a2a2a" stroke-width="0.35">-</text>
<text x="431.20" y="261.30" font-size="9.5" text-anchor="middle" font-weight="normal" fill="#2a2a2a" stroke="#2a2a2a" stroke-width="0.35">+</text>
<text x="449.00" y="261.30" font-size="9.5" text-anchor="middle" font-weight="normal" fill="#2a2a2a" stroke="#2a2a2a" stroke-width="0.35">-</text>
<text x="461.60" y="261.30" font-size="9.5" text-anchor="middle" font-weight="normal" fill="#2a2a2a" stroke="#2a2a2a" stroke-width="0.35">+</text>
<text x="67.50" y="301.30" font-size="10.6" text-anchor="start" font-weight="bold" fill="#000" textLength="8.00" lengthAdjust="spacingAndGlyphs" >D</text>
<text x="265.20" y="300.80" font-size="10.2" text-anchor="middle" font-weight="normal" fill="#1a1a1a" stroke="#1a1a1a" stroke-width="0.15" textLength="36.50" lengthAdjust="spacingAndGlyphs" >Nomo-1</text>
<line x1="109.6" y1="328.0" x2="109.6" y2="428.0" stroke="#8a8a8a" stroke-width="0.8"/>
<line x1="107.39999999999999" y1="427.6" x2="230" y2="427.6" stroke="#8a8a8a" stroke-width="0.8"/>
<line x1="170.5" y1="427.6" x2="170.5" y2="429.1" stroke="#8a8a8a" stroke-width="0.7"/>
<line x1="230" y1="427.6" x2="230" y2="429.1" stroke="#8a8a8a" stroke-width="0.7"/>
<text x="104.20" y="429.89" font-size="6.4" text-anchor="end" font-weight="normal" fill="#2a2a2a" stroke="#2a2a2a" stroke-width="0.12" >0</text>
<line x1="107.39999999999999" y1="417.69" x2="109.6" y2="417.69" stroke="#8a8a8a" stroke-width="0.7"/>
<text x="104.20" y="419.98" font-size="6.4" text-anchor="end" font-weight="normal" fill="#2a2a2a" stroke="#2a2a2a" stroke-width="0.12" >10</text>
<line x1="107.39999999999999" y1="407.78" x2="109.6" y2="407.78" stroke="#8a8a8a" stroke-width="0.7"/>
<text x="104.20" y="410.07" font-size="6.4" text-anchor="end" font-weight="normal" fill="#2a2a2a" stroke="#2a2a2a" stroke-width="0.12" >20</text>
<line x1="107.39999999999999" y1="397.87" x2="109.6" y2="397.87" stroke="#8a8a8a" stroke-width="0.7"/>
<text x="104.20" y="400.16" font-size="6.4" text-anchor="end" font-weight="normal" fill="#2a2a2a" stroke="#2a2a2a" stroke-width="0.12" >30</text>
<line x1="107.39999999999999" y1="387.96" x2="109.6" y2="387.96" stroke="#8a8a8a" stroke-width="0.7"/>
<text x="104.20" y="390.25" font-size="6.4" text-anchor="end" font-weight="normal" fill="#2a2a2a" stroke="#2a2a2a" stroke-width="0.12" >40</text>
<line x1="107.39999999999999" y1="378.05" x2="109.6" y2="378.05" stroke="#8a8a8a" stroke-width="0.7"/>
<text x="104.20" y="380.34" font-size="6.4" text-anchor="end" font-weight="normal" fill="#2a2a2a" stroke="#2a2a2a" stroke-width="0.12" >50</text>
<line x1="107.39999999999999" y1="368.14" x2="109.6" y2="368.14" stroke="#8a8a8a" stroke-width="0.7"/>
<text x="104.20" y="370.43" font-size="6.4" text-anchor="end" font-weight="normal" fill="#2a2a2a" stroke="#2a2a2a" stroke-width="0.12" >60</text>
<line x1="107.39999999999999" y1="358.23" x2="109.6" y2="358.23" stroke="#8a8a8a" stroke-width="0.7"/>
<text x="104.20" y="360.52" font-size="6.4" text-anchor="end" font-weight="normal" fill="#2a2a2a" stroke="#2a2a2a" stroke-width="0.12" >70</text>
<line x1="107.39999999999999" y1="348.32" x2="109.6" y2="348.32" stroke="#8a8a8a" stroke-width="0.7"/>
<text x="104.20" y="350.61" font-size="6.4" text-anchor="end" font-weight="normal" fill="#2a2a2a" stroke="#2a2a2a" stroke-width="0.12" >80</text>
<line x1="107.39999999999999" y1="338.41" x2="109.6" y2="338.41" stroke="#8a8a8a" stroke-width="0.7"/>
<text x="104.20" y="340.70" font-size="6.4" text-anchor="end" font-weight="normal" fill="#2a2a2a" stroke="#2a2a2a" stroke-width="0.12" >90</text>
<line x1="107.39999999999999" y1="328.50" x2="109.6" y2="328.50" stroke="#8a8a8a" stroke-width="0.7"/>
<text x="104.20" y="330.79" font-size="6.4" text-anchor="end" font-weight="normal" fill="#2a2a2a" stroke="#2a2a2a" stroke-width="0.12" >100</text>
<text transform="translate(90.8,368.7) rotate(-90)" font-size="5.6" text-anchor="middle" fill="#2a2a2a" stroke="#2a2a2a" stroke-width="0.12" textLength="31.8" lengthAdjust="spacingAndGlyphs">sub-G1 [%]</text>
<line x1="130.75" y1="424.63" x2="130.75" y2="424.23" stroke="#333" stroke-width="0.8"/>
<line x1="129.85" y1="424.23" x2="131.65" y2="424.23" stroke="#333" stroke-width="0.8"/>
<rect x="122.40" y="424.63" width="16.70" height="2.97" fill="#ffffff" stroke="#3a3a3a" stroke-width="0.8"/>
<line x1="148.25" y1="424.13" x2="148.25" y2="423.83" stroke="#333" stroke-width="0.8"/>
<line x1="147.35" y1="423.83" x2="149.15" y2="423.83" stroke="#333" stroke-width="0.8"/>
<rect x="139.90" y="424.13" width="16.70" height="3.47" fill="#3a3a3a" stroke="#2a2a2a" stroke-width="0.8"/>
<text x="139.60" y="437.20" font-size="6.2" text-anchor="middle" font-weight="normal" fill="#2a2a2a" stroke="#2a2a2a" stroke-width="0.12" textLength="8.00" lengthAdjust="spacingAndGlyphs" xml:space="preserve">ctrl</text>
<line x1="190.75" y1="410.06" x2="190.75" y2="406.29" stroke="#333" stroke-width="0.8"/>
<line x1="189.85" y1="406.29" x2="191.65" y2="406.29" stroke="#333" stroke-width="0.8"/>
<rect x="182.40" y="410.06" width="16.70" height="17.54" fill="#ffffff" stroke="#3a3a3a" stroke-width="0.8"/>
<line x1="208.25" y1="410.55" x2="208.25" y2="408.28" stroke="#333" stroke-width="0.8"/>
<line x1="207.35" y1="408.28" x2="209.15" y2="408.28" stroke="#333" stroke-width="0.8"/>
<rect x="199.90" y="410.55" width="16.70" height="17.05" fill="#3a3a3a" stroke="#2a2a2a" stroke-width="0.8"/>
<text x="199.60" y="437.20" font-size="6.2" text-anchor="middle" font-weight="normal" fill="#2a2a2a" stroke="#2a2a2a" stroke-width="0.12" textLength="36.80" lengthAdjust="spacingAndGlyphs" xml:space="preserve">DNR  60 nM</text>
<text x="164.60" y="325.00" font-size="6.1" text-anchor="middle" font-weight="normal" fill="#2a2a2a" stroke="#2a2a2a" stroke-width="0.12" textLength="16.75" lengthAdjust="spacingAndGlyphs" >sh ctrl</text>
<line x1="304.5" y1="328.0" x2="304.5" y2="428.0" stroke="#8a8a8a" stroke-width="0.8"/>
<line x1="302.3" y1="427.6" x2="424.3" y2="427.6" stroke="#8a8a8a" stroke-width="0.8"/>
<line x1="365.5" y1="427.6" x2="365.5" y2="429.1" stroke="#8a8a8a" stroke-width="0.7"/>
<line x1="424.3" y1="427.6" x2="424.3" y2="429.1" stroke="#8a8a8a" stroke-width="0.7"/>
<text x="299.80" y="429.89" font-size="6.4" text-anchor="end" font-weight="normal" fill="#2a2a2a" stroke="#2a2a2a" stroke-width="0.12" >0</text>
<line x1="302.3" y1="417.69" x2="304.5" y2="417.69" stroke="#8a8a8a" stroke-width="0.7"/>
<text x="299.80" y="419.98" font-size="6.4" text-anchor="end" font-weight="normal" fill="#2a2a2a" stroke="#2a2a2a" stroke-width="0.12" >10</text>
<line x1="302.3" y1="407.78" x2="304.5" y2="407.78" stroke="#8a8a8a" stroke-width="0.7"/>
<text x="299.80" y="410.07" font-size="6.4" text-anchor="end" font-weight="normal" fill="#2a2a2a" stroke="#2a2a2a" stroke-width="0.12" >20</text>
<line x1="302.3" y1="397.87" x2="304.5" y2="397.87" stroke="#8a8a8a" stroke-width="0.7"/>
<text x="299.80" y="400.16" font-size="6.4" text-anchor="end" font-weight="normal" fill="#2a2a2a" stroke="#2a2a2a" stroke-width="0.12" >30</text>
<line x1="302.3" y1="387.96" x2="304.5" y2="387.96" stroke="#8a8a8a" stroke-width="0.7"/>
<text x="299.80" y="390.25" font-size="6.4" text-anchor="end" font-weight="normal" fill="#2a2a2a" stroke="#2a2a2a" stroke-width="0.12" >40</text>
<line x1="302.3" y1="378.05" x2="304.5" y2="378.05" stroke="#8a8a8a" stroke-width="0.7"/>
<text x="299.80" y="380.34" font-size="6.4" text-anchor="end" font-weight="normal" fill="#2a2a2a" stroke="#2a2a2a" stroke-width="0.12" >50</text>
<line x1="302.3" y1="368.14" x2="304.5" y2="368.14" stroke="#8a8a8a" stroke-width="0.7"/>
<text x="299.80" y="370.43" font-size="6.4" text-anchor="end" font-weight="normal" fill="#2a2a2a" stroke="#2a2a2a" stroke-width="0.12" >60</text>
<line x1="302.3" y1="358.23" x2="304.5" y2="358.23" stroke="#8a8a8a" stroke-width="0.7"/>
<text x="299.80" y="360.52" font-size="6.4" text-anchor="end" font-weight="normal" fill="#2a2a2a" stroke="#2a2a2a" stroke-width="0.12" >70</text>
<line x1="302.3" y1="348.32" x2="304.5" y2="348.32" stroke="#8a8a8a" stroke-width="0.7"/>
<text x="299.80" y="350.61" font-size="6.4" text-anchor="end" font-weight="normal" fill="#2a2a2a" stroke="#2a2a2a" stroke-width="0.12" >80</text>
<line x1="302.3" y1="338.41" x2="304.5" y2="338.41" stroke="#8a8a8a" stroke-width="0.7"/>
<text x="299.80" y="340.70" font-size="6.4" text-anchor="end" font-weight="normal" fill="#2a2a2a" stroke="#2a2a2a" stroke-width="0.12" >90</text>
<line x1="302.3" y1="328.50" x2="304.5" y2="328.50" stroke="#8a8a8a" stroke-width="0.7"/>
<text x="299.80" y="330.79" font-size="6.4" text-anchor="end" font-weight="normal" fill="#2a2a2a" stroke="#2a2a2a" stroke-width="0.12" >100</text>
<text transform="translate(279.6,368.7) rotate(-90)" font-size="5.6" text-anchor="middle" fill="#2a2a2a" stroke="#2a2a2a" stroke-width="0.12" textLength="31.8" lengthAdjust="spacingAndGlyphs">sub-G1 [%]</text>
<line x1="326.25" y1="418.88" x2="326.25" y2="418.48" stroke="#333" stroke-width="0.8"/>
<line x1="325.35" y1="418.48" x2="327.15" y2="418.48" stroke="#333" stroke-width="0.8"/>
<rect x="317.90" y="418.88" width="16.70" height="8.72" fill="#ffffff" stroke="#3a3a3a" stroke-width="0.8"/>
<line x1="343.75" y1="418.09" x2="343.75" y2="417.49" stroke="#333" stroke-width="0.8"/>
<line x1="342.85" y1="417.49" x2="344.65" y2="417.49" stroke="#333" stroke-width="0.8"/>
<rect x="335.40" y="418.09" width="16.70" height="9.51" fill="#3a3a3a" stroke="#2a2a2a" stroke-width="0.8"/>
<text x="335.40" y="437.60" font-size="6.2" text-anchor="middle" font-weight="normal" fill="#2a2a2a" stroke="#2a2a2a" stroke-width="0.12" textLength="8.00" lengthAdjust="spacingAndGlyphs" xml:space="preserve">ctrl</text>
<line x1="386.75" y1="401.83" x2="386.75" y2="400.94" stroke="#333" stroke-width="0.8"/>
<line x1="385.85" y1="400.94" x2="387.65" y2="400.94" stroke="#333" stroke-width="0.8"/>
<rect x="378.40" y="401.83" width="16.70" height="25.77" fill="#ffffff" stroke="#3a3a3a" stroke-width="0.8"/>
<line x1="404.25" y1="367.64" x2="404.25" y2="366.75" stroke="#333" stroke-width="0.8"/>
<line x1="403.35" y1="366.75" x2="405.15" y2="366.75" stroke="#333" stroke-width="0.8"/>
<rect x="395.90" y="367.64" width="16.70" height="59.96" fill="#3a3a3a" stroke="#2a2a2a" stroke-width="0.8"/>
<text x="395.30" y="437.60" font-size="6.2" text-anchor="middle" font-weight="normal" fill="#2a2a2a" stroke="#2a2a2a" stroke-width="0.12" textLength="37.00" lengthAdjust="spacingAndGlyphs" xml:space="preserve">DNR  60 nM</text>
<text x="352.50" y="325.00" font-size="6.0" text-anchor="middle" font-weight="normal" fill="#2a2a2a" stroke="#2a2a2a" stroke-width="0.12" textLength="22.50" lengthAdjust="spacingAndGlyphs" >sh Lig3α</text>
<text x="404.10" y="366.70" font-size="10" text-anchor="middle" font-weight="bold" fill="#222" textLength="12.00" lengthAdjust="spacingAndGlyphs" >***</text>
<rect x="426.45" y="318.35" width="4.30" height="4.30" fill="#ffffff" stroke="#000" stroke-width="1.1"/>
<rect x="425.9" y="324.6" width="5.4" height="5.4" fill="#000"/>
<text x="435.70" y="322.90" font-size="6" text-anchor="start" font-weight="normal" fill="#2a2a2a" stroke="#2a2a2a" stroke-width="0.2" >-</text>
<text x="440.90" y="322.90" font-size="6.1" text-anchor="start" font-weight="normal" fill="#2a2a2a" stroke="#2a2a2a" stroke-width="0.2" textLength="13.40" lengthAdjust="spacingAndGlyphs" >DOX</text>
<text x="435.60" y="329.60" font-size="6" text-anchor="start" font-weight="normal" fill="#2a2a2a" stroke="#2a2a2a" stroke-width="0.2" >+</text>
<text x="440.90" y="329.60" font-size="6.1" text-anchor="start" font-weight="normal" fill="#2a2a2a" stroke="#2a2a2a" stroke-width="0.2" textLength="13.40" lengthAdjust="spacingAndGlyphs" >DOX</text>
<line x1="111.2" y1="479.9" x2="111.2" y2="573.5" stroke="#a0a0a0" stroke-width="0.8"/>
<line x1="109.2" y1="573.1" x2="216" y2="573.1" stroke="#a0a0a0" stroke-width="0.8"/>
<line x1="162.5" y1="573.1" x2="162.5" y2="574.6" stroke="#a0a0a0" stroke-width="0.7"/>
<line x1="216" y1="573.1" x2="216" y2="574.6" stroke="#a0a0a0" stroke-width="0.7"/>
<text x="106.80" y="575.18" font-size="5.8" text-anchor="end" font-weight="normal" fill="#2a2a2a" stroke="#2a2a2a" stroke-width="0.12" >0</text>
<line x1="109.2" y1="563.83" x2="111.2" y2="563.83" stroke="#a0a0a0" stroke-width="0.7"/>
<text x="106.80" y="565.91" font-size="5.8" text-anchor="end" font-weight="normal" fill="#2a2a2a" stroke="#2a2a2a" stroke-width="0.12" >10</text>
<line x1="109.2" y1="554.56" x2="111.2" y2="554.56" stroke="#a0a0a0" stroke-width="0.7"/>
<text x="106.80" y="556.64" font-size="5.8" text-anchor="end" font-weight="normal" fill="#2a2a2a" stroke="#2a2a2a" stroke-width="0.12" >20</text>
<line x1="109.2" y1="545.29" x2="111.2" y2="545.29" stroke="#a0a0a0" stroke-width="0.7"/>
<text x="106.80" y="547.37" font-size="5.8" text-anchor="end" font-weight="normal" fill="#2a2a2a" stroke="#2a2a2a" stroke-width="0.12" >30</text>
<line x1="109.2" y1="536.02" x2="111.2" y2="536.02" stroke="#a0a0a0" stroke-width="0.7"/>
<text x="106.80" y="538.10" font-size="5.8" text-anchor="end" font-weight="normal" fill="#2a2a2a" stroke="#2a2a2a" stroke-width="0.12" >40</text>
<line x1="109.2" y1="526.75" x2="111.2" y2="526.75" stroke="#a0a0a0" stroke-width="0.7"/>
<text x="106.80" y="528.83" font-size="5.8" text-anchor="end" font-weight="normal" fill="#2a2a2a" stroke="#2a2a2a" stroke-width="0.12" >50</text>
<line x1="109.2" y1="517.48" x2="111.2" y2="517.48" stroke="#a0a0a0" stroke-width="0.7"/>
<text x="106.80" y="519.56" font-size="5.8" text-anchor="end" font-weight="normal" fill="#2a2a2a" stroke="#2a2a2a" stroke-width="0.12" >60</text>
<line x1="109.2" y1="508.21" x2="111.2" y2="508.21" stroke="#a0a0a0" stroke-width="0.7"/>
<text x="106.80" y="510.29" font-size="5.8" text-anchor="end" font-weight="normal" fill="#2a2a2a" stroke="#2a2a2a" stroke-width="0.12" >70</text>
<line x1="109.2" y1="498.94" x2="111.2" y2="498.94" stroke="#a0a0a0" stroke-width="0.7"/>
<text x="106.80" y="501.02" font-size="5.8" text-anchor="end" font-weight="normal" fill="#2a2a2a" stroke="#2a2a2a" stroke-width="0.12" >80</text>
<line x1="109.2" y1="489.67" x2="111.2" y2="489.67" stroke="#a0a0a0" stroke-width="0.7"/>
<text x="106.80" y="491.75" font-size="5.8" text-anchor="end" font-weight="normal" fill="#2a2a2a" stroke="#2a2a2a" stroke-width="0.12" >90</text>
<line x1="109.2" y1="480.40" x2="111.2" y2="480.40" stroke="#a0a0a0" stroke-width="0.7"/>
<text x="106.80" y="482.48" font-size="5.8" text-anchor="end" font-weight="normal" fill="#2a2a2a" stroke="#2a2a2a" stroke-width="0.12" >100</text>
<text transform="translate(90.8,517.3) rotate(-90)" font-size="5.6" text-anchor="middle" fill="#2a2a2a" stroke="#2a2a2a" stroke-width="0.12" textLength="30.7" lengthAdjust="spacingAndGlyphs">sub-G1 [%]</text>
<line x1="129.88" y1="566.89" x2="129.88" y2="558.92" stroke="#707070" stroke-width="0.8"/>
<line x1="128.97" y1="558.92" x2="130.78" y2="558.92" stroke="#707070" stroke-width="0.8"/>
<rect x="122.90" y="566.89" width="13.95" height="6.21" fill="#ffffff" stroke="#3a3a3a" stroke-width="0.8"/>
<line x1="144.62" y1="569.11" x2="144.62" y2="563.83" stroke="#707070" stroke-width="0.8"/>
<line x1="143.72" y1="563.83" x2="145.53" y2="563.83" stroke="#707070" stroke-width="0.8"/>
<rect x="137.65" y="569.11" width="13.95" height="3.99" fill="#3a3a3a" stroke="#2a2a2a" stroke-width="0.8"/>
<text x="136.90" y="582.10" font-size="6" text-anchor="middle" font-weight="normal" fill="#2a2a2a" stroke="#2a2a2a" stroke-width="0.12" textLength="7.70" lengthAdjust="spacingAndGlyphs" xml:space="preserve">ctrl</text>
<line x1="181.18" y1="550.85" x2="181.18" y2="543.07" stroke="#707070" stroke-width="0.8"/>
<line x1="180.28" y1="543.07" x2="182.08" y2="543.07" stroke="#707070" stroke-width="0.8"/>
<rect x="174.20" y="550.85" width="13.95" height="22.25" fill="#ffffff" stroke="#3a3a3a" stroke-width="0.8"/>
<line x1="195.93" y1="558.82" x2="195.93" y2="553.08" stroke="#707070" stroke-width="0.8"/>
<line x1="195.03" y1="553.08" x2="196.83" y2="553.08" stroke="#707070" stroke-width="0.8"/>
<rect x="188.95" y="558.82" width="13.95" height="14.28" fill="#3a3a3a" stroke="#2a2a2a" stroke-width="0.8"/>
<text x="187.50" y="582.10" font-size="6" text-anchor="middle" font-weight="normal" fill="#2a2a2a" stroke="#2a2a2a" stroke-width="0.12" textLength="37.50" lengthAdjust="spacingAndGlyphs" xml:space="preserve">VP-16  0,8 µM</text>
<text x="164.60" y="474.20" font-size="6.1" text-anchor="middle" font-weight="normal" fill="#2a2a2a" stroke="#2a2a2a" stroke-width="0.12" textLength="16.75" lengthAdjust="spacingAndGlyphs" >sh ctrl</text>
<line x1="304.2" y1="479.9" x2="304.2" y2="573.5" stroke="#a0a0a0" stroke-width="0.8"/>
<line x1="302.2" y1="573.1" x2="407" y2="573.1" stroke="#a0a0a0" stroke-width="0.8"/>
<line x1="355" y1="573.1" x2="355" y2="574.6" stroke="#a0a0a0" stroke-width="0.7"/>
<line x1="407" y1="573.1" x2="407" y2="574.6" stroke="#a0a0a0" stroke-width="0.7"/>
<text x="299.80" y="575.18" font-size="5.8" text-anchor="end" font-weight="normal" fill="#2a2a2a" stroke="#2a2a2a" stroke-width="0.12" >0</text>
<line x1="302.2" y1="563.83" x2="304.2" y2="563.83" stroke="#a0a0a0" stroke-width="0.7"/>
<text x="299.80" y="565.91" font-size="5.8" text-anchor="end" font-weight="normal" fill="#2a2a2a" stroke="#2a2a2a" stroke-width="0.12" >10</text>
<line x1="302.2" y1="554.56" x2="304.2" y2="554.56" stroke="#a0a0a0" stroke-width="0.7"/>
<text x="299.80" y="556.64" font-size="5.8" text-anchor="end" font-weight="normal" fill="#2a2a2a" stroke="#2a2a2a" stroke-width="0.12" >20</text>
<line x1="302.2" y1="545.29" x2="304.2" y2="545.29" stroke="#a0a0a0" stroke-width="0.7"/>
<text x="299.80" y="547.37" font-size="5.8" text-anchor="end" font-weight="normal" fill="#2a2a2a" stroke="#2a2a2a" stroke-width="0.12" >30</text>
<line x1="302.2" y1="536.02" x2="304.2" y2="536.02" stroke="#a0a0a0" stroke-width="0.7"/>
<text x="299.80" y="538.10" font-size="5.8" text-anchor="end" font-weight="normal" fill="#2a2a2a" stroke="#2a2a2a" stroke-width="0.12" >40</text>
<line x1="302.2" y1="526.75" x2="304.2" y2="526.75" stroke="#a0a0a0" stroke-width="0.7"/>
<text x="299.80" y="528.83" font-size="5.8" text-anchor="end" font-weight="normal" fill="#2a2a2a" stroke="#2a2a2a" stroke-width="0.12" >50</text>
<line x1="302.2" y1="517.48" x2="304.2" y2="517.48" stroke="#a0a0a0" stroke-width="0.7"/>
<text x="299.80" y="519.56" font-size="5.8" text-anchor="end" font-weight="normal" fill="#2a2a2a" stroke="#2a2a2a" stroke-width="0.12" >60</text>
<line x1="302.2" y1="508.21" x2="304.2" y2="508.21" stroke="#a0a0a0" stroke-width="0.7"/>
<text x="299.80" y="510.29" font-size="5.8" text-anchor="end" font-weight="normal" fill="#2a2a2a" stroke="#2a2a2a" stroke-width="0.12" >70</text>
<line x1="302.2" y1="498.94" x2="304.2" y2="498.94" stroke="#a0a0a0" stroke-width="0.7"/>
<text x="299.80" y="501.02" font-size="5.8" text-anchor="end" font-weight="normal" fill="#2a2a2a" stroke="#2a2a2a" stroke-width="0.12" >80</text>
<line x1="302.2" y1="489.67" x2="304.2" y2="489.67" stroke="#a0a0a0" stroke-width="0.7"/>
<text x="299.80" y="491.75" font-size="5.8" text-anchor="end" font-weight="normal" fill="#2a2a2a" stroke="#2a2a2a" stroke-width="0.12" >90</text>
<line x1="302.2" y1="480.40" x2="304.2" y2="480.40" stroke="#a0a0a0" stroke-width="0.7"/>
<text x="299.80" y="482.48" font-size="5.8" text-anchor="end" font-weight="normal" fill="#2a2a2a" stroke="#2a2a2a" stroke-width="0.12" >100</text>
<text transform="translate(279.6,517.3) rotate(-90)" font-size="5.6" text-anchor="middle" fill="#2a2a2a" stroke="#2a2a2a" stroke-width="0.12" textLength="30.7" lengthAdjust="spacingAndGlyphs">sub-G1 [%]</text>
<line x1="322.30" y1="568.09" x2="322.30" y2="566.33" stroke="#707070" stroke-width="0.8"/>
<line x1="321.40" y1="566.33" x2="323.20" y2="566.33" stroke="#707070" stroke-width="0.8"/>
<rect x="315.40" y="568.09" width="13.80" height="5.01" fill="#ffffff" stroke="#3a3a3a" stroke-width="0.8"/>
<line x1="336.90" y1="568.84" x2="336.90" y2="566.89" stroke="#707070" stroke-width="0.8"/>
<line x1="336.00" y1="566.89" x2="337.80" y2="566.89" stroke="#707070" stroke-width="0.8"/>
<rect x="330.00" y="568.84" width="13.80" height="4.26" fill="#3a3a3a" stroke="#2a2a2a" stroke-width="0.8"/>
<text x="328.50" y="581.90" font-size="6" text-anchor="middle" font-weight="normal" fill="#2a2a2a" stroke="#2a2a2a" stroke-width="0.12" textLength="8.00" lengthAdjust="spacingAndGlyphs" xml:space="preserve">ctrl</text>
<line x1="373.65" y1="557.06" x2="373.65" y2="548.81" stroke="#707070" stroke-width="0.8"/>
<line x1="372.75" y1="548.81" x2="374.55" y2="548.81" stroke="#707070" stroke-width="0.8"/>
<rect x="366.70" y="557.06" width="13.90" height="16.04" fill="#ffffff" stroke="#3a3a3a" stroke-width="0.8"/>
<line x1="388.35" y1="528.33" x2="388.35" y2="525.08" stroke="#707070" stroke-width="0.8"/>
<line x1="387.45" y1="525.08" x2="389.25" y2="525.08" stroke="#707070" stroke-width="0.8"/>
<rect x="381.40" y="528.33" width="13.90" height="44.77" fill="#3a3a3a" stroke="#2a2a2a" stroke-width="0.8"/>
<text x="381.60" y="581.90" font-size="6" text-anchor="middle" font-weight="normal" fill="#2a2a2a" stroke="#2a2a2a" stroke-width="0.12" textLength="39.00" lengthAdjust="spacingAndGlyphs" xml:space="preserve">VP-16  0,8 µM</text>
<text x="352.75" y="473.90" font-size="6.0" text-anchor="middle" font-weight="normal" fill="#2a2a2a" stroke="#2a2a2a" stroke-width="0.12" textLength="23.00" lengthAdjust="spacingAndGlyphs" >sh Lig3α</text>
<text x="388.50" y="524.20" font-size="10" text-anchor="middle" font-weight="bold" fill="#222" textLength="7.40" lengthAdjust="spacingAndGlyphs" >**</text>
<rect x="426.45" y="466.65" width="4.30" height="4.30" fill="#ffffff" stroke="#000" stroke-width="1.1"/>
<rect x="425.9" y="472.90000000000003" width="5.4" height="5.4" fill="#000"/>
<text x="435.70" y="471.20" font-size="6" text-anchor="start" font-weight="normal" fill="#2a2a2a" stroke="#2a2a2a" stroke-width="0.2" >-</text>
<text x="440.90" y="471.20" font-size="6.1" text-anchor="start" font-weight="normal" fill="#2a2a2a" stroke="#2a2a2a" stroke-width="0.2" textLength="13.40" lengthAdjust="spacingAndGlyphs" >DOX</text>
<text x="435.60" y="477.90" font-size="6" text-anchor="start" font-weight="normal" fill="#2a2a2a" stroke="#2a2a2a" stroke-width="0.2" >+</text>
<text x="440.90" y="477.90" font-size="6.1" text-anchor="start" font-weight="normal" fill="#2a2a2a" stroke="#2a2a2a" stroke-width="0.2" textLength="13.40" lengthAdjust="spacingAndGlyphs" >DOX</text>
</svg>
</body></html>
